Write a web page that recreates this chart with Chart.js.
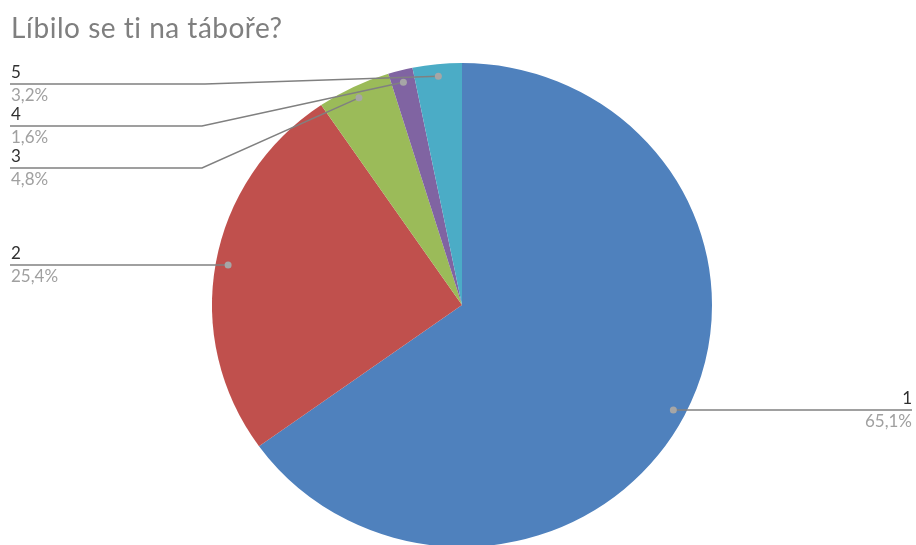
<!DOCTYPE html>
<html>
<head>
<meta charset="utf-8">
<script src="https://cdn.jsdelivr.net/npm/chart.js@4"></script>
<style>
  html, body { margin: 0; padding: 0; background: #fff; overflow: hidden; }
  #wrap { width: 916px; height: 545px; overflow: hidden; position: relative; }
  #wrap div { width: 916px; height: 610px; }
</style>
</head>
<body>
<div id="wrap"><div><canvas id="pieChart"></canvas></div></div>
<script>
const titulo = 'Líbilo se ti na táboře?'
const odpovedi = ['1', '2', '3', '4', '5']
const pocty = [41, 16, 3, 1, 2]
const procenta = ['65,1%', '25,4%', '4,8%', '1,6%', '3,2%']
const barvy = ['#4F81BD', '#C0504D', '#9BBB59', '#8064A2', '#4BACC6']

// where each label line ends up (side, y of the horizontal part)
const popisky = [
    { side: 'right', y: null },
    { side: 'left', y: null },
    { side: 'left', y: 168, elbow: 202 },
    { side: 'left', y: 126, elbow: 202 },
    { side: 'left', y: 84, elbow: 205 }
]

// the original pie is a little squashed vertically
const SPLOSTENI = 0.968

const squashPlugin = {
    id: 'squashPlugin',
    beforeDatasetsDraw(chart) {
        const cy = chart.getDatasetMeta(0).data[0].y
        const ctx = chart.ctx
        ctx.save()
        ctx.translate(0, cy)
        ctx.scale(1, SPLOSTENI)
        ctx.translate(0, -cy)
    },
    afterDatasetsDraw(chart) {
        chart.ctx.restore()
    }
}

const labelPlugin = {
    id: 'labelPlugin',
    afterDraw(chart) {
        const ctx = chart.ctx
        const arcs = chart.getDatasetMeta(0).data
        ctx.save()
        ctx.font = '28px Lato'
        ctx.letterSpacing = '0.5px'
        ctx.fillStyle = '#7f7f7f'
        ctx.textAlign = 'left'
        ctx.textBaseline = 'alphabetic'
        ctx.fillText(titulo, 11, 38)
        ctx.letterSpacing = '0px'

        arcs.forEach((arc, i) => {
            const p = arc.getProps(['x', 'y', 'startAngle', 'endAngle', 'outerRadius'], true)
            const mid = (p.startAngle + p.endAngle) / 2
            const r = p.outerRadius * 0.95
            const dx = p.x + Math.cos(mid) * r
            const dy = p.y + Math.sin(mid) * r * SPLOSTENI
            const info = popisky[i]
            const ly = info.y === null ? dy : info.y

            ctx.strokeStyle = '#808080'
            ctx.lineWidth = 1.5
            ctx.beginPath()
            ctx.moveTo(dx, dy)
            if (info.side === 'right') {
                ctx.lineTo(912, ly)
            } else {
                if (info.elbow) ctx.lineTo(info.elbow, ly)
                ctx.lineTo(10, ly)
            }
            ctx.stroke()

            ctx.fillStyle = '#a6a6a6'
            ctx.beginPath()
            ctx.arc(dx, dy, 3.5, 0, Math.PI * 2)
            ctx.fill()

            ctx.font = '17px Lato'
            const tx = info.side === 'right' ? 912 : 11
            ctx.textAlign = info.side === 'right' ? 'right' : 'left'
            ctx.fillStyle = '#303030'
            ctx.fillText(odpovedi[i], tx, ly - 6)
            ctx.fillStyle = '#a0a0a0'
            ctx.fillText(procenta[i], tx, ly + 17)
        })
        ctx.restore()
    }
}

const data = {
    labels: odpovedi,
    datasets: [{
        data: pocty,
        backgroundColor: barvy,
        borderWidth: 0
    }]
}

const options = {
    responsive: false,
    animation: false,
    layout: { padding: { top: 55, bottom: 55, left: 8, right: 0 } },
    plugins: {
        legend: { display: false },
        tooltip: { enabled: false }
    }
}

const canvas = document.getElementById('pieChart')
canvas.width = 916
canvas.height = 610
new Chart(canvas, { type: 'pie', data, options, plugins: [squashPlugin, labelPlugin] })
</script>
</body>
</html>
